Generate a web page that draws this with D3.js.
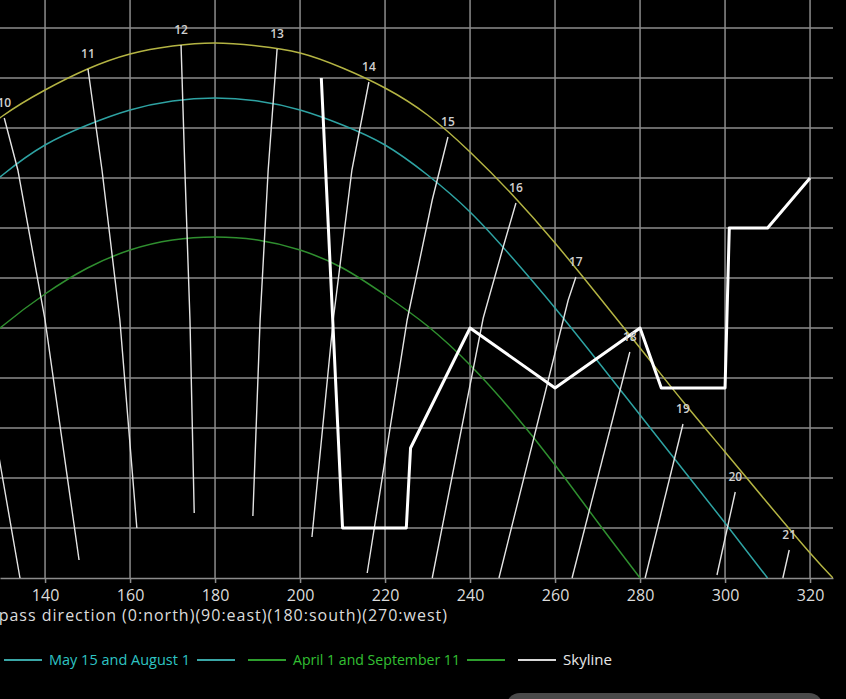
<!DOCTYPE html>
<html><head><meta charset="utf-8">
<script src="https://cdn.jsdelivr.net/npm/d3@7"></script>
<style>
html,body{margin:0;padding:0;background:#000;overflow:hidden;}
svg{display:block;}
text{font-family:"Open Sans","Noto Sans",sans-serif;}
</style></head><body>
<svg id="chart" width="846" height="699"></svg>
<script>
// ---- data ----
const xTicks = [140,160,180,200,220,240,260,280,300,320];
const yTicks = [5,10,15,20,25,30,35,40,45,50,55];

// June 21 (yellow)
const junAz  = [120,130,140,150,160,170,180,190,200,210,220,230,240,250,260,270,280,290,300,310,320,325.4];
const junAlt = [42.8,46.2,48.8,50.9,52.4,53.2,53.5,53.2,52.5,51.0,49.0,46.3,42.6,38.3,33.5,28.3,23.0,17.7,12.6,7.5,2.5,0];
// May 15 and August 1 (cyan)
const mayAz  = [120,130,140,150,160,170,180,190,200,210,220,230,240,250,260,270,280,290,300,310];
const mayAlt = [36.6,40.3,43.3,45.3,46.8,47.7,48.0,47.7,46.8,45.3,43.3,40.3,36.6,32.0,27.0,21.7,16.3,10.9,5.5,0];
// April 1 and September 11 (green)
const aprAz  = [110,120,130,140,150,160,170,180,190,200,210,220,230,240,250,260,270,280];
const aprAlt = [16.6,21.3,25.2,28.4,31.0,32.8,33.8,34.1,33.8,32.8,31.0,28.3,25.2,21.3,16.6,11.3,5.6,0];
// Skyline
const skyAz  = [205,210,225,226,240,260,280,285,300,301,310,320];
const skyAlt = [50,5,5,13,25,19,25,19,19,35,35,40];

// Hour lines
const hourLabels = ["9","10","11","12","13","14","15","16","17","18","19","20","21"];
const hourAz = [
  [119,129.4,134.1],
  [130.4,133.6,140,148],
  [150.1,153.4,157.6,161.6],
  [172,172.9,174.1,175.1],
  [194.6,192.5,190.6,188.9],
  [216.2,212.2,207.8,202.8],
  [234.8,231.1,225.2,215.8],
  [250.8,247.8,243.1,231.1],
  [264.9,263.1,246.8],
  [277.6,264],
  [290.1,281.2],
  [302.4,298.1],
  [315.1,313.6]
];
const hourAlt = [
  [37,11.5,0],
  [46,40.8,25.8,1.8],
  [50.9,40.8,25.8,5.0],
  [53.3,40.8,25.8,6.5],
  [52.9,40.8,25.8,6.2],
  [49.6,40.8,25.8,4.1],
  [44.1,37.8,25.8,0.5],
  [37.5,33.1,26,0],
  [30.1,27.8,0],
  [22.6,0],
  [15.4,0],
  [8.6,0.3],
  [2.8,0]
];

const legendLabels = ["May 15 and August 1","April 1 and September 11","Skyline"];
const axisTitle = "Compass direction (0:north)(90:east)(180:south)(270:west)";

// ---- drawing ----
const svg = d3.select("#chart");
svg.append("rect").attr("width",846).attr("height",699).attr("fill","#000");

const x = d3.scaleLinear().domain([129.4, 325.4]).range([0, 833]);
const y = d3.scaleLinear().domain([0, 57.8]).range([578, 0]);

svg.append("defs").append("clipPath").attr("id","plot")
  .append("rect").attr("x",-10).attr("y",0).attr("width",843).attr("height",578.5);

const gridColor = "#8c8c8c";
const grid = svg.append("g");
grid.selectAll("line.v").data(xTicks).join("line")
  .attr("x1",d=>x(d)).attr("x2",d=>x(d)).attr("y1",0).attr("y2",578)
  .attr("stroke",gridColor).attr("stroke-width",1.5);
grid.selectAll("line.h").data(yTicks).join("line")
  .attr("x1",0).attr("x2",833).attr("y1",d=>y(d)).attr("y2",d=>y(d))
  .attr("stroke",gridColor).attr("stroke-width",1.5);

// x axis
const ax = svg.append("g").attr("transform","translate(0,578)")
  .call(d3.axisBottom(x).tickValues(xTicks).tickSize(5).tickSizeOuter(0).tickPadding(7).tickFormat(d3.format("d")));
ax.select(".domain").attr("stroke",gridColor).attr("stroke-width",1.5);
ax.selectAll(".tick line").attr("stroke",gridColor).attr("stroke-width",1.5);
ax.selectAll(".tick text").attr("fill","#dcdcdc").style("font-size","16px").style("font-family","'Open Sans',sans-serif");

svg.append("text").attr("x",448).attr("y",621).attr("text-anchor","end")
  .attr("fill","#dcdcdc").style("font-size","16px").style("letter-spacing","1px").text(axisTitle);

const plot = svg.append("g").attr("clip-path","url(#plot)");
const curve = (az,alt)=>d3.line().x(i=>x(az[i])).y(i=>y(alt[i])).curve(d3.curveNatural)(d3.range(az.length));

plot.append("path").attr("d",curve(junAz,junAlt)).attr("fill","none").attr("stroke","#b4b443").attr("stroke-width",1.5);
plot.append("path").attr("d",curve(mayAz,mayAlt)).attr("fill","none").attr("stroke","#2ea3a3").attr("stroke-width",1.5);
plot.append("path").attr("d",curve(aprAz,aprAlt)).attr("fill","none").attr("stroke","#2f8f2f").attr("stroke-width",1.5);

// hour lines
const hl = d3.line().x(d=>x(d[0])).y(d=>y(d[1]));
hourAz.forEach((az,k)=>{
  const pts = az.map((a,i)=>[a,hourAlt[k][i]]);
  plot.append("path").attr("d",hl(pts)).attr("fill","none").attr("stroke","#e4e4e4").attr("stroke-width",1.4);
});

// skyline
const skyPts = skyAz.map((a,i)=>[a,skyAlt[i]]);
plot.append("path").attr("d",hl(skyPts)).attr("fill","none").attr("stroke","#ffffff")
  .attr("stroke-width",3).attr("stroke-linejoin","round");

// hour labels
hourLabels.forEach((lab,k)=>{
  const px = x(hourAz[k][0]), py = y(hourAlt[k][0]) - 15;
  if (px < 0) return;
  svg.append("text").attr("x",px).attr("y",py+4).attr("text-anchor","middle")
    .attr("fill","#d0d0d0").style("font-size","12px").style("font-weight","600").text(lab);
});

// legend
const legColors = ["#2ec4c4","#33c033","#e8e8e8"];
const legLine = ["#3aa6a6","#2e9e2e","#d8d8d8"];
const legTwoSided = [true,true,false];
const legWidths = [141,167,49];
const lg = svg.append("g");
let cx = 4; const ly = 660;
legendLabels.forEach((lab,i)=>{
  lg.append("line").attr("x1",cx).attr("x2",cx+38).attr("y1",ly).attr("y2",ly).attr("stroke",legLine[i]).attr("stroke-width",2);
  cx += 38 + 7;
  lg.append("text").attr("x",cx).attr("y",665).attr("fill",legColors[i]).style("font-size","15px")
    .attr("textLength",legWidths[i]).attr("lengthAdjust","spacingAndGlyphs").text(lab);
  cx += legWidths[i] + 7;
  if (legTwoSided[i]) {
    lg.append("line").attr("x1",cx).attr("x2",cx+38).attr("y1",ly).attr("y2",ly).attr("stroke",legLine[i]).attr("stroke-width",2);
    cx += 38 + 13;
  }
});

// bottom grey button edge
svg.append("rect").attr("x",506).attr("y",693).attr("width",317).attr("height",30).attr("rx",14).attr("fill","#4a4a4a");
</script>
</body></html>
